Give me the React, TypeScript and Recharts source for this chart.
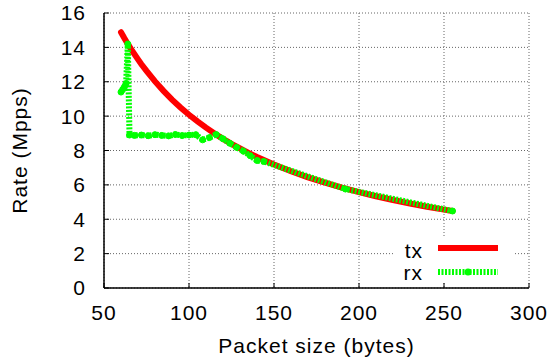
import React from 'react';
import { LineChart, Line, XAxis, YAxis, CartesianGrid, Legend, Label } from 'recharts';

const xTicks = [50, 100, 150, 200, 250, 300];
const yTicks = [0, 2, 4, 6, 8, 10, 12, 14, 16];

const txSizes = [60, 62, 64, 66, 68, 70, 72, 75, 80, 85, 90, 95, 100, 105, 110, 115, 120, 125, 130, 135, 140, 145, 150, 160, 170, 180, 190, 200, 210, 220, 230, 240, 250, 255];
const txRates = [14.88, 14.53, 14.2, 13.89, 13.59, 13.3, 13.02, 12.63, 12.02, 11.47, 10.96, 10.5, 10.08, 9.69, 9.33, 8.99, 8.68, 8.39, 8.12, 7.86, 7.62, 7.4, 7.18, 6.79, 6.44, 6.13, 5.84, 5.58, 5.34, 5.12, 4.92, 4.73, 4.56, 4.48];

const rxSizes = [60, 61, 62, 63, 64, 65, 68, 72, 76, 80, 84, 88, 92, 96, 100, 104, 108, 112, 116, 120, 124, 128, 132, 136, 140, 144, 192, 255];
const rxRates = [11.4, 11.55, 11.7, 11.9, 14.2, 8.9, 8.88, 8.9, 8.86, 8.92, 8.88, 8.85, 8.93, 8.87, 8.9, 8.92, 8.62, 8.75, 8.93, 8.68, 8.42, 8.18, 7.96, 7.7, 7.42, 7.36, 5.76, 4.48];

const txData = txSizes.map((size, i) => ({ size, rate: txRates[i] }));
const rxData = rxSizes.map((size, i) => ({ size, rate: rxRates[i] }));

const FONT = '"Liberation Sans", Arial, Helvetica, sans-serif';
const FS = 21;
const LS = 1;

const tickStyle = { fill: '#000', fontSize: FS, fontFamily: FONT, letterSpacing: LS };

const renderLegend = () => (
  <svg width={120} height={54} style={{ display: 'block', overflow: 'visible' }}>
    <rect x={0} y={0} width={120} height={46} fill="#fff" />
    <text x={29} y={22} textAnchor="end" fontSize={FS} fontFamily={FONT} letterSpacing={LS} fill="#000">tx</text>
    <line x1={44} x2={104} y1={12} y2={12} stroke="#ff0000" strokeWidth={6} />
    <text x={29} y={44} textAnchor="end" fontSize={FS} fontFamily={FONT} letterSpacing={LS} fill="#000">rx</text>
    <line x1={44} x2={104} y1={36} y2={36} stroke="#00ff00" strokeWidth={6} strokeDasharray="2 1.5" />
    <circle cx={74} cy={36} r={3.5} fill="#00ff00" />
  </svg>
);

const YLabel = (props: any) => {
  const vb = props.viewBox || { x: 0, y: 13, width: 104, height: 275 };
  const x = vb.x + 27;
  const y = vb.y + vb.height / 2;
  return (
    <text x={x} y={y} transform={`rotate(-90 ${x} ${y})`} textAnchor="middle" fontSize={FS} fontFamily={FONT} letterSpacing={LS} fill="#000">
      Rate (Mpps)
    </text>
  );
};

export default function App() {
  return (
    <div style={{ position: 'absolute', left: 0, top: 0, width: 550, height: 363, background: '#fff' }}>
      <LineChart width={550} height={363} margin={{ top: 13, right: 21, bottom: 0, left: 0 }}>
        <CartesianGrid stroke="#666" strokeDasharray="1 2" />
        <XAxis
          xAxisId={0}
          dataKey="size"
          type="number"
          domain={[50, 300]}
          ticks={xTicks}
          allowDataOverflow
          height={75}
          tickSize={-5}
          tickMargin={22}
          tick={tickStyle}
          stroke="#000"
          axisLine={{ stroke: '#000', strokeWidth: 1.5 }}
          tickLine={{ stroke: '#000', strokeWidth: 1 }}
        >
          <Label value="Packet size (bytes)" position="insideBottom" offset={10} fontSize={FS} fontFamily={FONT} letterSpacing={LS} fill="#000" />
        </XAxis>
        <XAxis
          xAxisId="top"
          orientation="top"
          dataKey="size"
          type="number"
          domain={[50, 300]}
          ticks={xTicks}
          allowDataOverflow
          height={0}
          tickSize={-5}
          tick={false}
          axisLine={{ stroke: '#000', strokeWidth: 1.5 }}
          tickLine={{ stroke: '#000', strokeWidth: 1 }}
        />
        <YAxis
          yAxisId={0}
          type="number"
          domain={[0, 16]}
          ticks={yTicks}
          allowDataOverflow
          width={104}
          tickSize={-5}
          tickMargin={23}
          tick={tickStyle}
          axisLine={{ stroke: '#000', strokeWidth: 1.5 }}
          tickLine={{ stroke: '#000', strokeWidth: 1 }}
        >
          <Label content={<YLabel />} />
        </YAxis>
        <YAxis
          yAxisId="right"
          orientation="right"
          type="number"
          domain={[0, 16]}
          ticks={yTicks}
          allowDataOverflow
          width={0}
          tickSize={-5}
          tick={false}
          axisLine={{ stroke: '#000', strokeWidth: 1.5 }}
          tickLine={{ stroke: '#000', strokeWidth: 1 }}
        />
        <Legend
          layout="horizontal"
          verticalAlign="middle"
          align="center"
          content={renderLegend}
          wrapperStyle={{ position: 'absolute', left: 394, top: 236, width: 120, height: 46 }}
        />
        <Line
          data={txData}
          dataKey="rate"
          name="tx"
          type="linear"
          stroke="#ff0000"
          strokeWidth={6}
          strokeLinecap="round"
          dot={false}
          activeDot={false}
          isAnimationActive={false}
        />
        <Line
          data={rxData}
          dataKey="rate"
          name="rx"
          type="linear"
          stroke="#00ff00"
          strokeWidth={6}
          strokeDasharray="2 1.5"
          dot={{ r: 3, fill: '#00ff00', stroke: '#00ff00', strokeWidth: 1, strokeDasharray: '' }}
          activeDot={false}
          isAnimationActive={false}
        />
      </LineChart>
    </div>
  );
}
